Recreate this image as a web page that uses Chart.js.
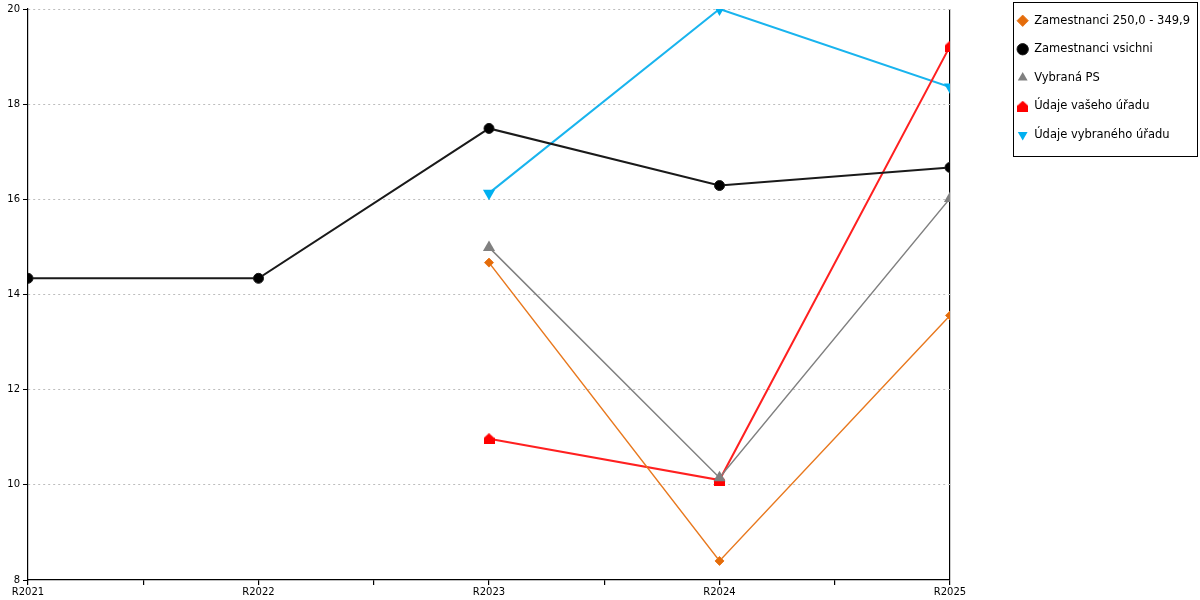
<!DOCTYPE html>
<html>
<head>
<meta charset="utf-8">
<script src="https://cdn.jsdelivr.net/npm/chart.js@4"></script>
<style>
  body { margin: 0; background: #fff; }
  #wrap { width: 1200px; height: 600px; }
</style>
</head>
<body>
<div id="wrap"><canvas id="chart"></canvas></div>
<script>
const years = ["R2021", "R2022", "R2023", "R2024", "R2025"];
const yTicks = [8, 10, 12, 14, 16, 18, 20];

const zam250 = [null, null, 14.67, 8.4, 13.56];
const zamVsichni = [14.34, 14.34, 17.49, 16.29, 16.67];
const vybranaPS = [null, null, 14.99, 10.15, 16.02];
const vasUrad = [null, null, 10.97, 10.1, 19.22];
const vybranyUrad = [null, null, 16.13, 20.0, 18.36];

// red "house" marker
function houseMarker(size, color) {
  const c = document.createElement("canvas");
  c.width = size; c.height = size;
  const g = c.getContext("2d");
  g.fillStyle = color;
  g.beginPath();
  g.moveTo(size / 2, 0);
  g.lineTo(size, size * 0.45);
  g.lineTo(size, size);
  g.lineTo(0, size);
  g.lineTo(0, size * 0.45);
  g.closePath();
  g.fill();
  return c;
}
const house = houseMarker(11, "#ff0000");

const toPts = arr => arr.map((v, i) => ({ x: i, y: v }));

const PLOT_RIGHT = 950;
const LEGEND_PAD = 17;
const LEGEND_FONT = 11.5;

// keep a gap between plot and legend, draw a frame around the legend
const legendBox = {
  id: "legendBox",
  beforeLayout(chart) {
    const lg = chart.legend;
    if (!lg || lg._patched) return;
    const fit = lg.fit.bind(lg);
    lg.fit = function () {
      fit();
      this._origWidth = this.width;
      this.width = chart.width - 2 - PLOT_RIGHT;
    };
    lg._patched = true;
  },
  afterLayout(chart) {
    const lg = chart.legend;
    lg.left = lg.right - lg._origWidth + 2;
    lg.top = -2;
  },
  afterDraw(chart) {
    const lg = chart.legend;
    const ctx = chart.ctx;
    const n = lg.legendItems.length;
    const maxW = Math.max(...lg.legendHitBoxes.map(h => h.width));
    const x0 = lg.left + LEGEND_PAD - 4;
    const y0 = 2;
    const w = chart.width - 2 - x0;
    const h = lg.top + LEGEND_PAD + n * (LEGEND_FONT + LEGEND_PAD) - LEGEND_PAD + 15 - y0;
    ctx.save();
    ctx.strokeStyle = "#000";
    ctx.lineWidth = 1;
    ctx.strokeRect(Math.round(x0) + 0.5, y0 + 0.5, Math.round(w) - 1, Math.round(h));
    ctx.restore();
  }
};

new Chart(document.getElementById("chart"), {
  type: "line",
  data: {
    datasets: [
      {
        label: "Zamestnanci 250,0 - 349,9",
        data: toPts(zam250),
        borderColor: "#e8781e",
        backgroundColor: "#e46c0a",
        borderWidth: 1.5,
        pointStyle: "rectRot",
        pointRadius: 4.5,
        pointBorderWidth: 1,
        tension: 0
      },
      {
        label: "Zamestnanci vsichni",
        data: toPts(zamVsichni),
        borderColor: "#1a1a1a",
        backgroundColor: "#000",
        borderWidth: 2,
        pointStyle: "circle",
        pointRadius: 5,
        pointBorderWidth: 1,
        tension: 0
      },
      {
        label: "Vybraná PS",
        data: toPts(vybranaPS),
        borderColor: "#808080",
        backgroundColor: "#808080",
        borderWidth: 1.5,
        pointStyle: "triangle",
        pointRadius: 7,
        pointBorderWidth: 0,
        tension: 0
      },
      {
        label: "Údaje vašeho úřadu",
        data: toPts(vasUrad),
        borderColor: "#ff2020",
        backgroundColor: "#ff0000",
        borderWidth: 2,
        pointStyle: house,
        pointRadius: 6,
        tension: 0
      },
      {
        label: "Údaje vybraného úřadu",
        data: toPts(vybranyUrad),
        borderColor: "#19b4ee",
        backgroundColor: "#00b0f0",
        borderWidth: 2,
        pointStyle: "triangle",
        rotation: 180,
        pointRadius: 7,
        pointBorderWidth: 0,
        tension: 0
      }
    ]
  },
  options: {
    responsive: true,
    maintainAspectRatio: false,
    animation: false,
    layout: { padding: { top: 4, right: 2, left: 0, bottom: 0 } },
    plugins: {
      legend: {
        position: "right",
        align: "start",
        labels: {
          usePointStyle: true,
          boxWidth: 12,
          boxHeight: 8,
          padding: LEGEND_PAD,
          color: "#000",
          font: { family: "DejaVu Sans", size: LEGEND_FONT }
        }
      },
      tooltip: { enabled: false }
    },
    scales: {
      x: {
        type: "linear",
        min: 0,
        max: 4,
        afterFit: s => { s.height = 20; },
        ticks: {
          stepSize: 0.5,
          autoSkip: false,
          maxRotation: 0,
          padding: 1,
          color: "#000",
          font: { family: "DejaVu Sans", size: 10 },
          callback: v => Number.isInteger(v) ? years[v] : ""
        },
        grid: {
          drawOnChartArea: true,
          tickLength: 5,
          tickColor: "#000",
          color: c => c.tick && c.tick.value === 4 ? "#000" : "rgba(0,0,0,0)",
          lineWidth: 1.2
        },
        border: { color: "#000", width: 1.2 }
      },
      y: {
        min: 8,
        max: 20,
        afterFit: s => { s.width = 28; },
        afterBuildTicks: s => { s.ticks = yTicks.map(v => ({ value: v })); },
        ticks: {
          padding: 3,
          color: "#000",
          font: { family: "DejaVu Sans", size: 10 }
        },
        grid: {
          tickLength: 5,
          tickColor: "#000",
          tickBorderDash: [],
          color: c => c.tick && c.tick.value === 8 ? "rgba(0,0,0,0)" : "#bdbdbd",
          lineWidth: 1
        },
        border: { color: "#000", width: 1.2, dash: [2, 3] }
      }
    }
  },
  plugins: [legendBox]
});
</script>
</body>
</html>
